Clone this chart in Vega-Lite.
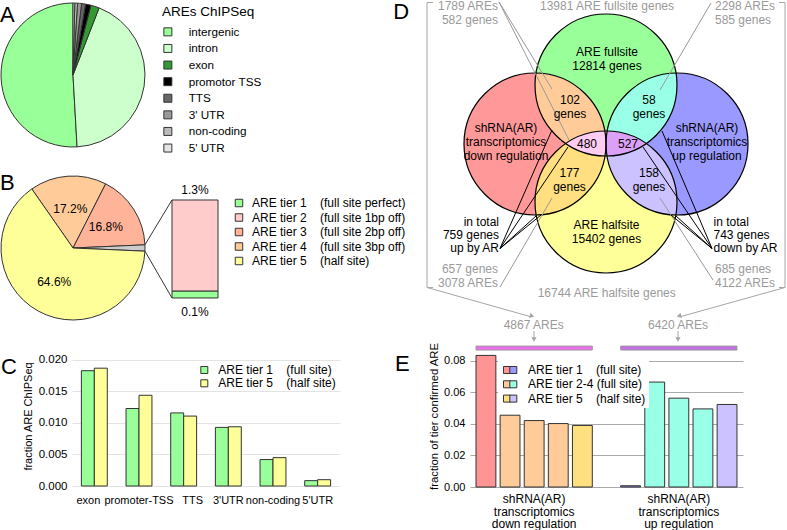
{
  "$schema": "https://vega.github.io/schema/vega-lite/v6.json",
  "background": "white",
  "autosize": {"type": "none"},
  "padding": {"left": 0, "top": 0, "right": 787, "bottom": 530},
  "bounds": "flush",
  "spacing": 470,
  "resolve": {"scale": {"color": "independent", "fill": "independent", "shape": "independent", "theta": "independent"}},
  "config": {
    "font": "Liberation Sans",
    "view": {"stroke": null},
    "title": {"fontSize": 22, "fontWeight": "normal", "anchor": "start", "frame": "group", "offset": 0, "color": "#000"},
    "axis": {"labelColor": "#000", "titleColor": "#000", "titleFontWeight": "normal"},
    "legend": {"labelColor": "#000", "titleColor": "#000", "padding": 0}
  },
  "datasets": {
    "eBars": [
      {"bar": "down tier 1", "group": "down", "tier": "ARE tier 1", "fraction": 0.0834},
      {"bar": "down tier 2", "group": "down", "tier": "ARE tier 2-4", "fraction": 0.0455},
      {"bar": "down tier 3", "group": "down", "tier": "ARE tier 2-4", "fraction": 0.0421},
      {"bar": "down tier 4", "group": "down", "tier": "ARE tier 2-4", "fraction": 0.0402},
      {"bar": "down tier 5", "group": "down", "tier": "ARE tier 5", "fraction": 0.0390},
      {"bar": "up tier 1", "group": "up", "tier": "ARE tier 1", "fraction": 0.0008},
      {"bar": "up tier 2", "group": "up", "tier": "ARE tier 2-4", "fraction": 0.0665},
      {"bar": "up tier 3", "group": "up", "tier": "ARE tier 2-4", "fraction": 0.0563},
      {"bar": "up tier 4", "group": "up", "tier": "ARE tier 2-4", "fraction": 0.0495},
      {"bar": "up tier 5", "group": "up", "tier": "ARE tier 5", "fraction": 0.0523}
    ],
    "pieB": [
      {"tier": "ARE tier 4", "share": 17.2, "ord": 1, "label": "17.2%"},
      {"tier": "ARE tier 3", "share": 16.8, "ord": 2, "label": "16.8%"},
      {"tier": "ARE tier 1-2", "share": 1.4, "ord": 3, "label": ""},
      {"tier": "ARE tier 5", "share": 64.6, "ord": 4, "label": "64.6%"}
    ],
    "venn": [
      {"set": "ARE fullsite", "x": 0, "y": -59},
      {"set": "shRNA down", "x": -71, "y": 0},
      {"set": "shRNA up", "x": 71, "y": 0},
      {"set": "ARE halfsite", "x": 0, "y": 58}
    ]
  },
  "hconcat": [
    {
      "bounds": "flush",
      "spacing": 25,
      "resolve": {"scale": {"color": "independent", "fill": "independent", "shape": "independent", "theta": "independent"}},
      "vconcat": [
        {
          "width": 146,
          "height": 150,
          "title": {"text": "A", "dx": 0, "dy": 31},
          "data": {"values": [
            {"region": "intergenic", "share": 50.9, "ord": 8},
            {"region": "intron", "share": 43.2, "ord": 7},
            {"region": "exon", "share": 1.9, "ord": 6},
            {"region": "promotor TSS", "share": 1.2, "ord": 5},
            {"region": "TTS", "share": 0.9, "ord": 4},
            {"region": "3' UTR", "share": 0.9, "ord": 3},
            {"region": "non-coding", "share": 0.6, "ord": 2},
            {"region": "5' UTR", "share": 0.4, "ord": 1}
          ]},
          "mark": {"type": "arc", "outerRadius": 72, "stroke": "#333", "strokeWidth": 1},
          "encoding": {
            "theta": {"field": "share", "type": "quantitative", "stack": true},
            "order": {"field": "ord", "type": "quantitative"},
            "color": {
              "field": "region", "type": "nominal",
              "scale": {"domain": ["intergenic", "intron", "exon", "promotor TSS", "TTS", "3' UTR", "non-coding", "5' UTR"],
                        "range": ["#99ff99", "#ccffcc", "#339933", "#000000", "#666666", "#999999", "#bbbbbb", "#e4e4e4"]},
              "legend": {"title": "AREs ChIPSeq", "orient": "none", "legendX": 162, "legendY": 4.5, "titleFontSize": 13.5, "titleFontWeight": "normal", "titlePadding": 8, "labelFontSize": 11.7, "labelOffset": 15, "symbolType": "square", "symbolSize": 64, "symbolStrokeColor": "#333", "symbolStrokeWidth": 1, "rowPadding": 2.6}
            }
          }
        },
        {
          "width": 146,
          "height": 146,
          "title": {"text": "B", "dx": 0, "dy": 25},
          "layer": [
            {
              "data": {"name": "pieB"},
              "mark": {"type": "arc", "outerRadius": 72, "stroke": "#333", "strokeWidth": 1},
              "encoding": {
                "theta": {"field": "share", "type": "quantitative", "stack": true, "scale": {"range": [-0.6095, 5.6737]}},
                "order": {"field": "ord", "type": "quantitative"},
                "color": {
                  "field": "tier", "type": "nominal",
                  "scale": {"domain": ["ARE tier 1", "ARE tier 2", "ARE tier 3", "ARE tier 4", "ARE tier 5", "ARE tier 1-2"],
                            "range": ["#99ff99", "#ffcccc", "#ffb399", "#ffcc99", "#ffff99", "#cccccc"]},
                  "legend": {"title": null, "orient": "none", "legendX": 233, "legendY": 22, "labelFontSize": 12, "labelOffset": 7, "symbolType": "square", "symbolSize": 56, "symbolStrokeColor": "#333", "symbolStrokeWidth": 1, "rowPadding": 2.5, "labelLimit": 300,
                    "values": ["ARE tier 1", "ARE tier 2", "ARE tier 3", "ARE tier 4", "ARE tier 5"],
                    "labelExpr": "datum.label == 'ARE tier 1' ? 'ARE tier 1\u00a0\u00a0\u00a0\u00a0(full site perfect)' : datum.label == 'ARE tier 2' ? 'ARE tier 2\u00a0\u00a0\u00a0\u00a0(full site 1bp off)' : datum.label == 'ARE tier 3' ? 'ARE tier 3\u00a0\u00a0\u00a0\u00a0(full site 2bp off)' : datum.label == 'ARE tier 4' ? 'ARE tier 4\u00a0\u00a0\u00a0\u00a0(full site 3bp off)' : 'ARE tier 5\u00a0\u00a0\u00a0\u00a0(half site)'"}
                }
              }
            },
            {
              "data": {"name": "pieB"},
              "mark": {"type": "text", "radius": 39, "fontSize": 12},
              "encoding": {
                "theta": {"field": "share", "type": "quantitative", "stack": true},
                "order": {"field": "ord", "type": "quantitative"},
                "detail": {"field": "tier"},
                "text": {"field": "label"}
              }
            },
            {
              "data": {"values": [
                {"tier": "ARE tier 1", "lo": 0, "hi": 0.1},
                {"tier": "ARE tier 2", "lo": 0.1, "hi": 1.4}
              ]},
              "mark": {"type": "rect", "stroke": "#333", "strokeWidth": 1},
              "encoding": {
                "x": {"datum": 1.375, "type": "quantitative", "scale": {"domain": [-1.0139, 1.0139], "nice": false, "zero": false}, "axis": null},
                "x2": {"datum": 2.014},
                "y": {"field": "lo", "type": "quantitative", "scale": {"domain": [-0.329, 1.757], "nice": false, "zero": false}, "axis": null},
                "y2": {"field": "hi"},
                "color": {"field": "tier", "type": "nominal"}
              }
            },
            {
              "data": {"values": [
                {"x": 0.999, "y": 0.759, "x2": 1.375, "y2": 1.4},
                {"x": 0.999, "y": 0.670, "x2": 1.375, "y2": 0}
              ]},
              "mark": {"type": "rule", "stroke": "#333", "strokeWidth": 1},
              "encoding": {
                "x": {"field": "x", "type": "quantitative", "scale": {"domain": [-1.0139, 1.0139], "nice": false, "zero": false}, "axis": null},
                "y": {"field": "y", "type": "quantitative", "scale": {"domain": [-0.329, 1.757], "nice": false, "zero": false}, "axis": null},
                "x2": {"field": "x2"},
                "y2": {"field": "y2"}
              }
            },
            {
              "data": {"values": [
                {"t": "1.3%", "y": 1.543},
                {"t": "0.1%", "y": -0.2}
              ]},
              "mark": {"type": "text", "fontSize": 12},
              "encoding": {
                "x": {"datum": 1.694, "type": "quantitative", "scale": {"domain": [-1.0139, 1.0139], "nice": false, "zero": false}, "axis": null},
                "y": {"field": "y", "type": "quantitative", "scale": {"domain": [-0.329, 1.757], "nice": false, "zero": false}, "axis": null},
                "text": {"field": "t"}
              }
            }
          ]
        },
        {
          "bounds": "flush",
          "spacing": 10,
          "hconcat": [
            {"width": 62, "height": 10, "data": {"values": [{}]}, "mark": {"type": "point", "opacity": 0}},
            {
              "width": 268,
              "height": 140,
              "title": {"text": "C", "dx": -71, "dy": 37},
              "data": {"values": [
                {"feature": "exon", "tier": "ARE tier 1", "fraction": 0.0183},
                {"feature": "exon", "tier": "ARE tier 5", "fraction": 0.0187},
                {"feature": "promoter-TSS", "tier": "ARE tier 1", "fraction": 0.0123},
                {"feature": "promoter-TSS", "tier": "ARE tier 5", "fraction": 0.0144},
                {"feature": "TTS", "tier": "ARE tier 1", "fraction": 0.0116},
                {"feature": "TTS", "tier": "ARE tier 5", "fraction": 0.0111},
                {"feature": "3'UTR", "tier": "ARE tier 1", "fraction": 0.0093},
                {"feature": "3'UTR", "tier": "ARE tier 5", "fraction": 0.0094},
                {"feature": "non-coding", "tier": "ARE tier 1", "fraction": 0.0042},
                {"feature": "non-coding", "tier": "ARE tier 5", "fraction": 0.0045},
                {"feature": "5'UTR", "tier": "ARE tier 1", "fraction": 0.00085},
                {"feature": "5'UTR", "tier": "ARE tier 5", "fraction": 0.0010}
              ]},
              "mark": {"type": "bar", "stroke": "#333", "strokeWidth": 1},
              "encoding": {
                "x": {"field": "feature", "type": "nominal", "sort": ["exon", "promoter-TSS", "TTS", "3'UTR", "non-coding", "5'UTR"],
                      "scale": {"paddingInner": 0.42, "paddingOuter": 0.21},
                      "axis": {"title": null, "labelAngle": 0, "labelFontSize": 11, "ticks": false, "domain": false, "labelPadding": 8, "labelOverlap": false, "labelLimit": 200,
                               "labelOffset": {"condition": [{"test": "datum.value == 'exon'", "value": -6}, {"test": "datum.value == 'TTS'", "value": 9}], "value": 0}}},
                "xOffset": {"field": "tier", "type": "nominal", "sort": ["ARE tier 1", "ARE tier 5"], "scale": {"paddingInner": 0, "paddingOuter": 0}},
                "y": {"field": "fraction", "type": "quantitative", "scale": {"domain": [0, 0.02222], "nice": false},
                      "axis": {"values": [0, 0.005, 0.01, 0.015, 0.02], "format": ".3f", "title": "fraction ARE ChIPSeq", "titleFontSize": 11, "titlePadding": 5, "labelFontSize": 11.5, "ticks": false, "domain": false, "labelPadding": 5, "labelOverlap": false, "gridColor": "#e3e3e3"}},
                "color": {"field": "tier", "type": "nominal", "scale": {"domain": ["ARE tier 1", "ARE tier 5"], "range": ["#99ff99", "#ffff99"]},
                  "legend": {"title": null, "orient": "none", "legendX": 198.3, "legendY": 18, "labelFontSize": 12, "labelOffset": 8, "symbolType": "square", "symbolSize": 49, "symbolStrokeColor": "#333", "symbolStrokeWidth": 1, "rowPadding": 1.3, "labelLimit": 300,
                    "labelExpr": "datum.label == 'ARE tier 1' ? 'ARE tier 1\u00a0\u00a0\u00a0\u00a0(full site)' : 'ARE tier 5\u00a0\u00a0\u00a0\u00a0(half site)'"}}
              }
            }
          ]
        }
      ]
    },
    {
      "bounds": "flush",
      "spacing": 45,
      "resolve": {"scale": {"color": "independent", "fill": "independent", "shape": "independent", "theta": "independent"}},
      "vconcat": [
        {
          "width": 273,
          "height": 300,
          "title": {"text": "D", "dx": -76.7, "dy": 28},
          "encoding": {
            "x": {"field": "x", "type": "quantitative", "scale": {"domain": [-136, 137], "nice": false, "zero": false}, "axis": null},
            "y": {"field": "y", "type": "quantitative", "scale": {"domain": [-144, 156], "nice": false, "zero": false, "reverse": true}, "axis": null}
          },
          "layer": [
            {
              "data": {"name": "venn"},
              "mark": {"type": "point", "shape": "circle", "size": 20164, "filled": true, "opacity": 1, "strokeWidth": 0},
              "encoding": {
                "fill": {"field": "set", "type": "nominal", "scale": {"domain": ["ARE fullsite", "shRNA down", "shRNA up", "ARE halfsite"], "range": ["#99ff99", "#ff9999", "#9999ff", "#ffff99"]}, "legend": null}
              }
            },
            {
              "data": {"values": [
                {"region": "down & fullsite", "x": 0, "y": 0},
                {"region": "up & fullsite", "x": 0, "y": 0},
                {"region": "down & halfsite", "x": 0, "y": 0},
                {"region": "up & halfsite", "x": 0, "y": 0},
                {"region": "down & both", "x": 0, "y": 0},
                {"region": "up & both", "x": 0, "y": 0}
              ]},
              "mark": {"type": "point", "size": 4, "filled": true, "opacity": 1, "strokeWidth": 0},
              "encoding": {
                "color": {"field": "region", "type": "nominal", "legend": null,
                  "scale": {"domain": ["down & fullsite", "up & fullsite", "down & halfsite", "up & halfsite", "down & both", "up & both"],
                            "range": ["#ffcc99", "#99ffe6", "#ffdf80", "#ccc2ff", "#ffccf2", "#dca0f8"]}},
                "shape": {"field": "region", "type": "nominal", "legend": null,
                  "scale": {"domain": ["down & fullsite", "up & fullsite", "down & halfsite", "up & halfsite", "down & both", "up & both"],
                            "range": [
                              "M -70 -71 A 71 71 0 0 0 -40.23 -0.5 A 71 71 0 0 1 -1.2 -13 A 71 71 0 0 0 -70 -71 Z",
                              "M 70 -71 A 71 71 0 0 1 40.23 -0.5 A 71 71 0 0 0 1.2 -13 A 71 71 0 0 1 70 -71 Z",
                              "M -69.8 71 A 71 71 0 0 0 -1 12 A 71 71 0 0 1 -40.23 -0.5 A 71 71 0 0 0 -69.8 71 Z",
                              "M 69.8 71 A 71 71 0 0 1 1 12 A 71 71 0 0 0 40.23 -0.5 A 71 71 0 0 1 69.8 71 Z",
                              "M -40.23 -0.5 A 71 71 0 0 1 -1.2 -13 A 71 71 0 0 1 -1 12 A 71 71 0 0 1 -40.23 -0.5 Z",
                              "M 40.23 -0.5 A 71 71 0 0 0 1.2 -13 A 71 71 0 0 0 1 12 A 71 71 0 0 0 40.23 -0.5 Z"
                            ]}}
              }
            },
            {
              "data": {"name": "venn"},
              "mark": {"type": "point", "shape": "circle", "size": 20164, "filled": false, "stroke": "#000", "strokeWidth": 1.2, "opacity": 1}
            },
            {
              "data": {"values": [
                {"x": -107, "y": -142, "x2": -54, "y2": -55},
                {"x": -107, "y": -142, "x2": -37, "y2": -4},
                {"x": 105, "y": -141, "x2": 54, "y2": -54},
                {"x": -106, "y": 143, "x2": -54, "y2": 54},
                {"x": 107, "y": 136, "x2": 54, "y2": 54}
              ]},
              "mark": {"type": "rule", "stroke": "#999", "strokeWidth": 1},
              "encoding": {"x2": {"field": "x2"}, "y2": {"field": "y2"}}
            },
            {
              "data": {"values": [
                {"x": -106, "y": 104.5, "x2": -54, "y2": -14},
                {"x": -106, "y": 104.5, "x2": -38, "y2": 3},
                {"x": -106, "y": 104.5, "x2": -70, "y2": 72},
                {"x": -106, "y": 104.5, "x2": -65, "y2": 71},
                {"x": 106, "y": 104.5, "x2": 56, "y2": -13},
                {"x": 106, "y": 104.5, "x2": 37, "y2": 3},
                {"x": 106, "y": 104.5, "x2": 70, "y2": 72},
                {"x": 106, "y": 104.5, "x2": 65, "y2": 71}
              ]},
              "mark": {"type": "rule", "stroke": "#000", "strokeWidth": 1},
              "encoding": {"x2": {"field": "x2"}, "y2": {"field": "y2"}}
            },
            {
              "data": {"values": [
                {"x": -173, "y": -141.5, "x2": -179, "y2": -141.5},
                {"x": -179, "y": -141.5, "x2": -179, "y2": 143.5},
                {"x": -179, "y": 143.5, "x2": -173, "y2": 143.5},
                {"x": -179, "y": 143.5, "x2": -76, "y2": 172.5},
                {"x": 173, "y": -141.5, "x2": 179, "y2": -141.5},
                {"x": 179, "y": -141.5, "x2": 179, "y2": 143.5},
                {"x": 179, "y": 143.5, "x2": 173, "y2": 143.5},
                {"x": 179, "y": 143.5, "x2": 75, "y2": 172.5},
                {"x": -72, "y": 187, "x2": -72, "y2": 195},
                {"x": 72, "y": 187, "x2": 72, "y2": 195}
              ]},
              "mark": {"type": "rule", "stroke": "#a6a6a6", "strokeWidth": 1},
              "encoding": {"x2": {"field": "x2"}, "y2": {"field": "y2"}}
            },
            {
              "data": {"values": [
                {"x": -74, "y": 172, "dir": 15.8},
                {"x": 73, "y": 172, "dir": 164.8},
                {"x": -72, "y": 195.5, "dir": 90},
                {"x": 72, "y": 195.5, "dir": 90}
              ]},
              "mark": {"type": "point", "shape": "triangle-right", "size": 28, "filled": true, "fill": "#a6a6a6", "opacity": 1, "strokeWidth": 0},
              "encoding": {"angle": {"field": "dir", "type": "quantitative", "scale": null}}
            },
            {
              "data": {"values": [
                {"x": 1, "y": -92, "t": "ARE fullsite\n12814 genes"},
                {"x": -36, "y": -44, "t": "102\ngenes"},
                {"x": 43, "y": -44, "t": "58\ngenes"},
                {"x": -100, "y": -15.7, "t": "shRNA(AR)\ntranscriptomics\ndown regulation"},
                {"x": 101, "y": -15.7, "t": "shRNA(AR)\ntranscriptomics\nup regulation"},
                {"x": -19, "y": -0.5, "t": "480"},
                {"x": 22, "y": -0.5, "t": "527"},
                {"x": -36.5, "y": 29, "t": "177\ngenes"},
                {"x": 43, "y": 29, "t": "158\ngenes"},
                {"x": 0.5, "y": 81, "t": "ARE halfsite\n15402 genes"}
              ]},
              "mark": {"type": "text", "fontSize": 12, "lineBreak": "\n", "lineHeight": 13.7, "baseline": "middle", "align": "center", "fill": "#000"},
              "encoding": {"text": {"field": "t"}}
            },
            {
              "data": {"values": [{"x": -107, "y": 77.7, "t": "in total\n759 genes\nup by AR"}]},
              "mark": {"type": "text", "fontSize": 12, "lineBreak": "\n", "lineHeight": 13.4, "baseline": "middle", "align": "right", "fill": "#000"},
              "encoding": {"text": {"field": "t"}}
            },
            {
              "data": {"values": [{"x": 107.5, "y": 77.7, "t": "in total\n743 genes\ndown by AR"}]},
              "mark": {"type": "text", "fontSize": 12, "lineBreak": "\n", "lineHeight": 13.4, "baseline": "middle", "align": "left", "fill": "#000"},
              "encoding": {"text": {"field": "t"}}
            },
            {
              "data": {"values": [
                {"x": 1, "y": -137.6, "t": "13981 ARE fullsite genes"},
                {"x": 0.7, "y": 149.3, "t": "16744 ARE halfsite genes"},
                {"x": -72.3, "y": 181, "t": "4867 AREs"},
                {"x": 72, "y": 181, "t": "6420 AREs"}
              ]},
              "mark": {"type": "text", "fontSize": 12, "baseline": "middle", "align": "center", "fill": "#9a9a9a"},
              "encoding": {"text": {"field": "t"}}
            },
            {
              "data": {"values": [
                {"x": -108, "y": -137.6, "t": "1789 AREs\n582 genes"},
                {"x": -108, "y": 125.3, "t": "657 genes\n3078 AREs"}
              ]},
              "mark": {"type": "text", "fontSize": 12, "lineBreak": "\n", "lineHeight": 13.8, "baseline": "middle", "align": "right", "fill": "#9a9a9a"},
              "encoding": {"text": {"field": "t"}}
            },
            {
              "data": {"values": [
                {"x": 109, "y": -137.6, "t": "2298 AREs\n585 genes"},
                {"x": 109, "y": 125.3, "t": "685 genes\n4122 AREs"}
              ]},
              "mark": {"type": "text", "fontSize": 12, "lineBreak": "\n", "lineHeight": 13.8, "baseline": "middle", "align": "left", "fill": "#9a9a9a"},
              "encoding": {"text": {"field": "t"}}
            }
          ]
        },
        {
          "width": 273,
          "height": 142,
          "title": {"text": "E", "dx": -75, "dy": 37.5},
          "resolve": {"scale": {"color": "independent"}},
          "encoding": {
            "x": {"field": "bar", "type": "nominal", "scale": {"domain": ["down tier 1", "down tier 2", "down tier 3", "down tier 4", "down tier 5", "gap", "up tier 1", "up tier 2", "up tier 3", "up tier 4", "up tier 5"], "paddingInner": 0.177, "paddingOuter": 0.25}, "axis": null},
            "y": {"field": "fraction", "type": "quantitative", "scale": {"domain": [0, 0.09], "nice": false},
                  "axis": {"values": [0, 0.02, 0.04, 0.06, 0.08], "tickCount": 5, "format": ".2f", "title": "fraction of tier confirmed ARE", "titleFontSize": 11.3, "titlePadding": 4, "labelFontSize": 11, "ticks": false, "domain": false, "labelPadding": 5, "labelOverlap": false, "labelBound": false, "labelFlush": false, "gridColor": "#aaaaaa"}}
          },
          "layer": [
            {
              "data": {"name": "eBars"},
              "transform": [{"filter": "datum.group == 'down'"}],
              "mark": {"type": "bar", "stroke": "#333", "strokeWidth": 1},
              "encoding": {
                "color": {"field": "tier", "type": "nominal", "scale": {"domain": ["ARE tier 1", "ARE tier 2-4", "ARE tier 5"], "range": ["#ff9494", "#ffcc99", "#ffe080"]},
                  "legend": {"title": null, "orient": "none", "legendX": 28, "legendY": 16, "padding": 3, "fillColor": "#ffffff", "symbolType": "square", "symbolSize": 49, "symbolStrokeColor": "#333", "symbolStrokeWidth": 1, "labelFontSize": 12, "labelOffset": 15, "labelOpacity": 0, "rowPadding": 2.3, "labelLimit": 300,
                    "labelExpr": "datum.label == 'ARE tier 1' ? 'ARE tier 1\u00a0\u00a0\u00a0\u00a0(full site)' : datum.label == 'ARE tier 2-4' ? 'ARE tier 2-4\u00a0(full site)' : 'ARE tier 5\u00a0\u00a0\u00a0\u00a0(half site)'"}}
              }
            },
            {
              "data": {"name": "eBars"},
              "transform": [{"filter": "datum.group == 'up'"}],
              "mark": {"type": "bar", "stroke": "#333", "strokeWidth": 1},
              "encoding": {
                "color": {"field": "tier", "type": "nominal", "scale": {"domain": ["ARE tier 1", "ARE tier 2-4", "ARE tier 5"], "range": ["#9999ff", "#99ffe6", "#ccc2ff"]},
                  "legend": {"title": null, "orient": "none", "legendX": 37.3, "legendY": 19, "padding": 0, "symbolType": "square", "symbolSize": 49, "symbolStrokeColor": "#333", "symbolStrokeWidth": 1, "labelFontSize": 12, "labelOffset": 8.7, "rowPadding": 2.3, "labelLimit": 300,
                    "labelExpr": "datum.label == 'ARE tier 1' ? 'ARE tier 1\u00a0\u00a0\u00a0\u00a0(full site)' : datum.label == 'ARE tier 2-4' ? 'ARE tier 2-4\u00a0(full site)' : 'ARE tier 5\u00a0\u00a0\u00a0\u00a0(half site)'"}}
              }
            },
            {
              "data": {"values": [{"group": "down", "first": "down tier 1", "last": "down tier 5", "fraction": 0.0893, "lower": 0.0868}]},
              "mark": {"type": "rect", "stroke": "#999", "strokeWidth": 1, "fill": "#ee6fee"},
              "encoding": {
                "x": {"field": "first", "type": "nominal", "bandPosition": 0},
                "x2": {"field": "last", "bandPosition": 1},
                "y2": {"field": "lower"}
              }
            },
            {
              "data": {"values": [{"group": "up", "first": "up tier 1", "last": "up tier 5", "fraction": 0.0893, "lower": 0.0868}]},
              "mark": {"type": "rect", "stroke": "#999", "strokeWidth": 1, "fill": "#c46fe8"},
              "encoding": {
                "x": {"field": "first", "type": "nominal", "bandPosition": 0},
                "x2": {"field": "last", "bandPosition": 1},
                "y2": {"field": "lower"}
              }
            },
            {
              "data": {"values": [
                {"bar": "down tier 3", "fraction": 0, "label": "shRNA(AR)\ntranscriptomics\ndown regulation"},
                {"bar": "up tier 3", "fraction": 0, "label": "shRNA(AR)\ntranscriptomics\nup regulation"}
              ]},
              "mark": {"type": "text", "fontSize": 12, "lineBreak": "\n", "lineHeight": 12.5, "baseline": "middle", "dy": 12},
              "encoding": {
                "text": {"field": "label"}
              }
            }
          ]
        }
      ]
    }
  ]
}
